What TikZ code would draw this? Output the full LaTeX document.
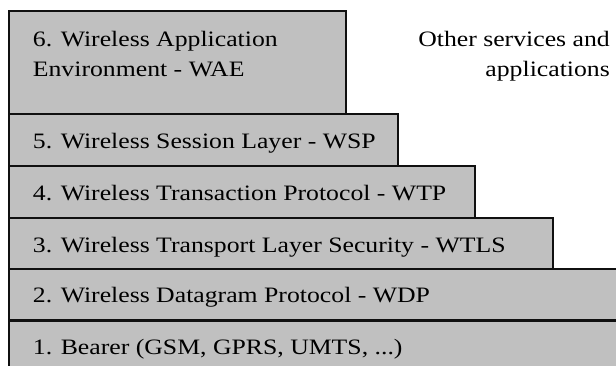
\documentclass[tikz,border=0pt]{standalone}
\usepackage{fontspec}
\setmainfont{Liberation Serif}[FakeStretch=1.17]
\definecolor{layergray}{HTML}{C0C0C0}
\definecolor{layerline}{HTML}{101010}
\tikzset{
  layer/.style={draw=layerline, fill=layergray, line width=1.6pt, anchor=north west,
    inner sep=0pt, outer sep=0pt, minimum height=52pt},
  layertext/.style={anchor=base west, inner sep=0pt, text=black,
    font=\fontsize{22}{29.3}\selectfont},
}
\begin{document}
\begin{tikzpicture}[x=1pt, y=-1pt]
  \useasboundingbox (0,0) rectangle (616,365);
  \clip (0,0) rectangle (616,365);
  % protocol stack, from the top layer down
  \node[layer, minimum width=337pt, minimum height=103pt] (wae) at (9,11) {};
  \node[layer, minimum width=389pt] (wsp) at (9,114) {};
  \node[layer, minimum width=466pt] (wtp) at (9,166) {};
  \node[layer, minimum width=544pt] (wtls) at (9,218) {};
  \node[layer, minimum width=620pt, minimum height=51pt] (wdp) at (9,269) {};
  \node[layer, minimum width=620pt, minimum height=60pt] (bearer) at (9,321) {};

  % base of a two-line node is the baseline of its last line
  \node[layertext, align=left] (wae text) at ([xshift=23.7pt, yshift=-65pt]wae.north west)
    {6. Wireless Application\\Environment - WAE};
  \node[layertext, anchor=base east, align=right] (other text) at (610,76)
    {Other services and\\applications};
  \node[layertext] (wsp text) at ([xshift=23.7pt, yshift=-8pt]wsp.west) {5. Wireless Session Layer - WSP};
  \node[layertext] (wtp text) at ([xshift=23.7pt, yshift=-8pt]wtp.west) {4. Wireless Transaction Protocol - WTP};
  \node[layertext] (wtls text) at ([xshift=23.7pt, yshift=-8pt]wtls.west) {3. Wireless Transport Layer Security - WTLS};
  \node[layertext] (wdp text) at ([xshift=23.7pt, yshift=-8pt]wdp.west) {2. Wireless Datagram Protocol - WDP};
  \node[layertext] (bearer text) at ([xshift=23.7pt, yshift=-33pt]bearer.north west) {1. Bearer (GSM, GPRS, UMTS, ...)};
\end{tikzpicture}
\end{document}
